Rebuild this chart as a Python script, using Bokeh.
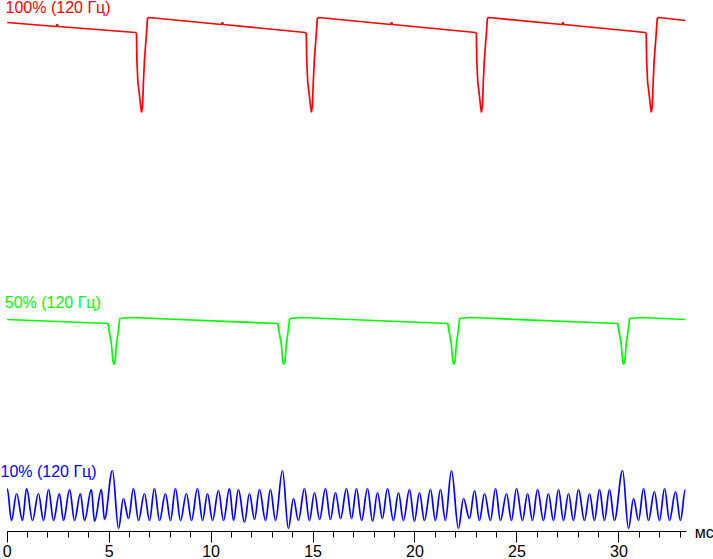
from bokeh.plotting import figure
from bokeh.models import Range1d, SingleIntervalTicker, Label
from bokeh.embed import file_html
from bokeh.resources import INLINE

# time in ms, values in arbitrary brightness units
red_ms = [0.00, 2.40, 2.45, 2.50, 6.29, 6.34, 6.36, 6.41, 6.49, 6.54, 6.59, 6.64, 6.68, 6.73, 6.83, 6.88, 6.95,
          10.50, 10.55, 10.60, 14.62, 14.67, 14.69, 14.74, 14.82, 14.87, 14.92, 14.97, 15.01, 15.06, 15.16, 15.21, 15.28,
          18.80, 18.85, 18.90, 22.96, 23.01, 23.03, 23.08, 23.16, 23.21, 23.26, 23.31, 23.35, 23.40, 23.50, 23.55, 23.62,
          27.20, 27.25, 27.30, 31.29, 31.34, 31.36, 31.41, 31.49, 31.54, 31.59, 31.64, 31.68, 31.73, 31.83, 31.88, 31.95,
          33.26]
red_val = [509, 505, 507, 505, 499, 498, 471, 449, 436, 426, 419, 426, 449, 471, 498, 513, 514,
           507, 509, 507, 499, 498, 471, 449, 436, 426, 419, 426, 449, 471, 498, 513, 514,
           507, 509, 507, 499, 498, 471, 449, 436, 426, 419, 426, 449, 471, 498, 513, 514,
           507, 509, 507, 499, 498, 471, 449, 436, 426, 419, 426, 449, 471, 498, 513, 514,
           511]

green_ms = [0.00, 4.94, 5.02, 5.11, 5.18, 5.23, 5.30, 5.36, 5.44, 5.52, 6.05,
            13.27, 13.35, 13.44, 13.51, 13.56, 13.63, 13.69, 13.77, 13.85, 14.38,
            21.61, 21.69, 21.78, 21.85, 21.90, 21.97, 22.03, 22.11, 22.19, 22.72,
            29.94, 30.02, 30.11, 30.18, 30.23, 30.30, 30.36, 30.44, 30.52, 31.05,
            33.26]
green_val = [212, 208, 198, 188, 171, 167, 171, 188, 199, 213, 214,
             208, 198, 188, 171, 167, 171, 188, 199, 213, 214,
             208, 198, 188, 171, 167, 171, 188, 199, 213, 214,
             208, 198, 188, 171, 167, 171, 188, 199, 213, 214,
             212]

# blue: successive extremes (peaks / troughs) of the oscillation
blue_ms = [0.00, 0.21, 0.46, 0.75, 0.95, 1.24, 1.53, 1.78, 2.03, 2.27,
           2.56, 2.76, 3.06, 3.30, 3.59, 3.79, 4.13, 4.28, 4.62, 4.77,
           5.16, 5.46, 5.70, 5.95, 6.19, 6.44, 6.73, 6.98, 7.22, 7.47,
           7.76, 8.01, 8.25, 8.50, 8.79, 9.04, 9.33, 9.58, 9.82, 10.07,
           10.36, 10.61, 10.90, 11.10, 11.34, 11.64, 11.88, 12.13, 12.37, 12.67,
           12.91, 13.16, 13.50, 13.79, 14.04, 14.28, 14.58, 14.82, 15.07, 15.32,
           15.61, 15.85, 16.10, 16.35, 16.64, 16.89, 17.13, 17.38, 17.67, 17.92,
           18.16, 18.40, 18.65, 18.94, 19.19, 19.43, 19.73, 19.97, 20.22, 20.46,
           20.76, 21.00, 21.25, 21.49, 21.79, 22.13, 22.38, 22.67, 22.92, 23.16,
           23.41, 23.70, 23.95, 24.19, 24.49, 24.73, 24.98, 25.27, 25.52, 25.76,
           26.01, 26.30, 26.54, 26.79, 27.04, 27.28, 27.53, 27.77, 28.02, 28.31,
           28.56, 28.80, 29.05, 29.29, 29.54, 29.78, 30.18, 30.47, 30.72, 30.96,
           31.21, 31.45, 31.74, 31.99, 32.24, 32.48, 32.78, 33.02, 33.26]
blue_val = [43, 11, 38, 11, 43, 11, 38, 11, 42, 11,
            38, 11, 42, 11, 38, 11, 42, 10, 42, 12,
            61, 3, 33, 13, 43, 11, 38, 11, 43, 11,
            38, 11, 43, 11, 38, 11, 43, 11, 38, 11,
            41, 11, 43, 11, 42, 9, 38, 12, 42, 11,
            42, 11, 61, 3, 33, 11, 43, 11, 39, 12,
            43, 12, 39, 13, 43, 13, 43, 11, 43, 10,
            39, 13, 43, 11, 39, 11, 42, 10, 39, 11,
            42, 11, 42, 11, 61, 3, 33, 13, 41, 11,
            38, 11, 43, 11, 38, 11, 43, 11, 38, 11,
            42, 11, 38, 11, 42, 11, 38, 11, 42, 11,
            38, 11, 42, 11, 42, 11, 61, 3, 33, 11,
            43, 11, 40, 11, 43, 11, 40, 11, 42]

series_labels = ["100% (120 Гц)", "50% (120 Гц)", "10% (120 Гц)"]
unit_label = "мс"

FONT = "Liberation Sans"

p = figure(width=713, height=559, output_backend="svg", toolbar_location=None,
           x_range=Range1d(-0.329, 34.64), y_range=Range1d(-28, 531),
           min_border_left=0, min_border_right=0, min_border_top=0, min_border_bottom=0)
p.styles = {"position": "absolute", "left": "0px", "top": "0px"}
p.outline_line_color = None
p.grid.visible = False
p.yaxis.visible = False
p.background_fill_color = "white"
p.border_fill_color = "white"

ax = p.xaxis[0]
ax.fixed_location = 0
ax.bounds = (0, 33.3)
ax.ticker = SingleIntervalTicker(interval=5, num_minor_ticks=5)
ax.axis_line_color = "black"
ax.major_tick_line_color = "black"
ax.minor_tick_line_color = "black"
ax.major_tick_in = 0
ax.major_tick_out = 11
ax.minor_tick_in = 0
ax.minor_tick_out = 6
ax.major_label_standoff = 2
ax.major_label_text_font = FONT
ax.major_label_text_font_size = "16px"
ax.major_label_text_color = "black"

p.line(red_ms, red_val, line_color="#ff0000", line_width=1.7)
p.line(green_ms, green_val, line_color="#00ff00", line_width=1.7)

# blue drawn as smooth curve through the extremes (horizontal tangents at each extreme)
x0 = blue_ms[:-1]
x1 = blue_ms[1:]
y0 = blue_val[:-1]
y1 = blue_val[1:]
k = 0.36
cx0 = [a + k * (b - a) for a, b in zip(x0, x1)]
cx1 = [b - k * (b - a) for a, b in zip(x0, x1)]
p.bezier(x0=x0, y0=y0, x1=x1, y1=y1, cx0=cx0, cy0=y0, cx1=cx1, cy1=y1,
         line_color="#0000ff", line_width=1.7)

label_specs = [(series_labels[0], -0.08, 524, "#ff0000"),
               (series_labels[1], -0.12, 229, "#00ff00"),
               (series_labels[2], -0.33, 60, "#0000ff")]
for txt, lx, ly, col in label_specs:
    p.add_layout(Label(x=lx, y=ly, text=txt, text_color=col, text_font=FONT,
                       text_font_size="16px", text_baseline="alphabetic"))

p.add_layout(Label(x=33.72, y=-1, text=unit_label, text_color="black", text_font=FONT,
                   text_font_size="16px", text_baseline="alphabetic"))

open("out.html", "w").write(file_html(p, INLINE))
